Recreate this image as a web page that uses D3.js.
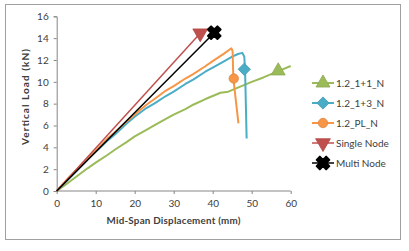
<!DOCTYPE html>
<html><head><meta charset="utf-8">
<script src="https://cdn.jsdelivr.net/npm/d3@7"></script>
<style>body{margin:0;background:#fff}svg{display:block}text{font-family:Lato,"Open Sans",sans-serif}</style>
</head><body><svg id="c" width="409" height="251"></svg>
<script>
const xTicks = [0,10,20,30,40,50,60];
const yTicks = [0,2,4,6,8,10,12,14,16];
const seriesNames = ["1.2_1+1_N","1.2_1+3_N","1.2_PL_N","Single Node","Multi Node"];
const seriesColors = ["#9bbb59","#4bacc6","#f79646","#c0504d","#000000"];
const green = [[0,0],[2,0.5],[5,1.3],[8,2.1],[10,2.6],[13,3.3],[15,3.8],[18,4.5],[20,5.0],[23,5.6],[25,6.0],[28,6.6],[30,7.0],[33,7.5],[35,7.9],[38,8.4],[40,8.7],[42,9.0],[44,9.1],[46,9.4],[48,9.7],[50,10.0],[53,10.4],[55,10.7],[57,11.0],[60,11.45]];
const blue = [[0,0],[3,1.1],[5,1.8],[8,2.9],[10,3.6],[13,4.6],[15,5.2],[18,6.2],[20,6.8],[23,7.6],[25,8.0],[28,8.7],[30,9.1],[33,9.8],[35,10.2],[38,10.9],[40,11.3],[43,11.9],[45,12.3],[46.5,12.55],[47.6,12.65],[48.1,12.3],[48.3,11.1],[48.7,4.8]];
const orange = [[0,0],[3,1.2],[5,1.9],[8,3.0],[10,3.7],[13,4.8],[15,5.4],[18,6.4],[20,7.0],[23,7.9],[25,8.4],[28,9.2],[30,9.6],[33,10.3],[35,10.7],[38,11.4],[40,11.9],[43,12.6],[44.8,13.07],[45.1,12.8],[45.3,10.3],[46.6,6.2]];
const single = [[0,0],[36.8,14.45]];
const multi = [[0,0],[40.4,14.5]];
const markerPts = [[56.8,11.0],[48.1,11.15],[45.4,10.3],[36.8,14.45],[40.4,14.5]];
const allData = [green, blue, orange, single, multi];

const svg = d3.select("#c");
svg.append("rect").attr("x",5.5).attr("y",4.5).attr("width",395).attr("height",235).attr("fill","#fff").attr("stroke","#a0a0a0");
const x = d3.scaleLinear().domain([0,60]).range([56.7,290.7]);
const y = d3.scaleLinear().domain([0,16]).range([191,16.3]);
const axisColor = "#868686";
const gx = svg.append("g").attr("transform","translate(0,191)").call(d3.axisBottom(x).tickValues(xTicks).tickSize(3).tickPadding(6));
const gy = svg.append("g").attr("transform","translate(56.7,0)").call(d3.axisLeft(y).tickValues(yTicks).tickSize(3).tickPadding(5));
[gx,gy].forEach(g=>{g.selectAll("path,line").attr("stroke",axisColor);g.selectAll("text").attr("font-size",10).attr("fill","#404040");});
gx.select(".domain").attr("d","M56.7,0H290.7");
svg.append("text").attr("x",173.5).attr("y",224).attr("text-anchor","middle").attr("font-size",9.8).attr("font-weight","bold").attr("fill","#404040").attr("textLength",134).attr("lengthAdjust","spacing").text("Mid-Span  Displacement  (mm)");
svg.append("text").attr("transform","translate(29,97) rotate(-90)").attr("text-anchor","middle").attr("font-size",10).attr("font-weight","bold").attr("fill","#404040").attr("textLength",96).attr("lengthAdjust","spacing").text("Vertical Load (kN)");

const line = d3.line().x(d=>x(d[0])).y(d=>y(d[1]));
const widths = [2,2,2,1.5,1.5];
const symbols = [d3.symbolTriangle, d3.symbolSquare, d3.symbolCircle, d3.symbolTriangle, d3.symbolCross];
const rots = [0,45,0,180,45];
const sizes = [85,75,70,95,100];
function marker(g, i, cx, cy){
  g.append("path").attr("d",d3.symbol().type(symbols[i]).size(sizes[i])())
   .attr("transform",`translate(${cx},${cy}) rotate(${rots[i]})`)
   .attr("fill",seriesColors[i]).attr("stroke",i===4?"#000":d3.color(seriesColors[i]).darker(0.3)).attr("stroke-width",i===4?2:0.8).attr("stroke-linejoin","round");
}
const plot = svg.append("g");
allData.forEach((d,i)=>{
  plot.append("path").datum(d).attr("d",line).attr("fill","none").attr("stroke",seriesColors[i]).attr("stroke-width",widths[i]).attr("stroke-linejoin","round");
});
markerPts.forEach((p,i)=>marker(plot,i,x(p[0]),y(p[1])));

const leg = svg.append("g");
seriesNames.forEach((n,i)=>{
  const yy = 83 + i*20;
  leg.append("line").attr("x1",312).attr("x2",334).attr("y1",yy).attr("y2",yy).attr("stroke",seriesColors[i]).attr("stroke-width",widths[i]);
  marker(leg,i,323,yy);
  leg.append("text").attr("x",336).attr("y",yy+3.5).attr("font-size",10).attr("fill","#404040").text(n);
});
</script></body></html>
